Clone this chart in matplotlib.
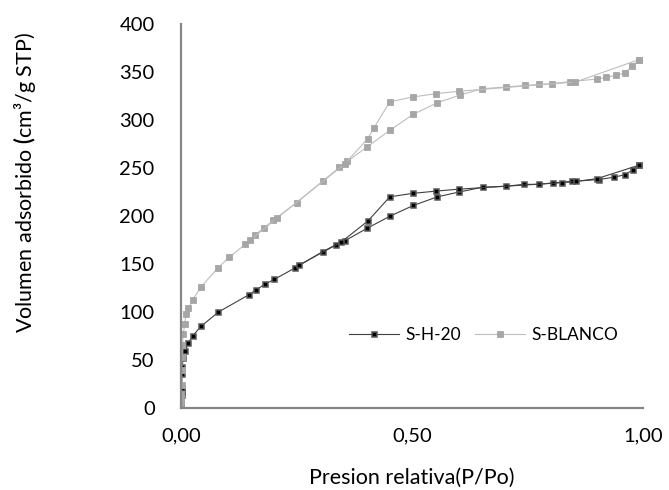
import matplotlib
matplotlib.use("Agg")
import matplotlib.pyplot as plt

plt.rcParams['font.family'] = ['Lato', 'DejaVu Sans']
plt.rcParams['mathtext.fontset'] = 'custom'
plt.rcParams['mathtext.bf'] = 'Lato:bold'
plt.rcParams['mathtext.rm'] = 'Lato'

# S-H-20 adsorption / desorption
h20_ads_p = [0.0003, 0.0005, 0.0007, 0.0009, 0.0011, 0.0013, 0.0015, 0.002, 0.003, 0.004,
             0.009, 0.016, 0.025, 0.043, 0.081, 0.147, 0.162, 0.182, 0.202, 0.247,
             0.307, 0.335, 0.354, 0.402, 0.453, 0.503, 0.555, 0.602, 0.653, 0.703,
             0.743, 0.774, 0.805, 0.846, 0.905, 0.938, 0.961, 0.978, 0.992]
h20_ads_v = [2, 5, 8, 11, 14, 17, 21, 35, 43, 52,
             59, 68, 75, 85, 100, 118, 123, 129, 134, 146,
             163, 170, 174, 187, 200, 211, 220, 225, 230, 231,
             233, 233, 234.5, 236, 238, 240.5, 243, 248, 253]
h20_des_p = [0.992, 0.901, 0.855, 0.824, 0.602, 0.553, 0.502, 0.452, 0.405, 0.346, 0.256]
h20_des_v = [253, 239, 236, 234.7, 228, 226, 223.6, 220, 195, 172.6, 149]

# S-BLANCO adsorption / desorption
bl_ads_p = [0.0003, 0.0006, 0.0009, 0.0012, 0.0015, 0.002, 0.003, 0.005, 0.008, 0.011,
            0.016, 0.025, 0.043, 0.079, 0.104, 0.139, 0.16, 0.18, 0.2, 0.25,
            0.307, 0.343, 0.36, 0.403, 0.453, 0.503, 0.555, 0.604, 0.652, 0.703,
            0.745, 0.774, 0.804, 0.843, 0.901, 0.921, 0.941, 0.961, 0.977, 0.992]
bl_ads_v = [5, 10, 15, 24, 40, 53, 66, 77, 88, 98,
            104, 112.5, 126, 145.5, 157, 170.5, 180, 188, 195.5, 214,
            236.5, 250.7, 257, 272, 289.6, 306, 318, 326, 332.6, 334.4,
            336, 337, 338, 340, 342.7, 344.4, 346.5, 349, 356, 363]
bl_des_p = [0.992, 0.854, 0.602, 0.553, 0.502, 0.452, 0.418, 0.404, 0.354, 0.208, 0.15]
bl_des_v = [363, 339.6, 330, 327.5, 324, 319, 292, 280.5, 254, 198, 175]

fig = plt.figure(figsize=(6.69, 4.9), dpi=100)
ax = fig.add_axes([0.2706, 0.1673, 0.6904, 0.7837])

dark = dict(color='#404040', lw=0.8, marker='s', ms=3.6, mfc='black',
            mec='#5a5a5a', mew=1.1)
light = dict(color='#bdbdbd', lw=0.8, marker='s', ms=4.3, mfc='#a6a6a6',
             mec='#a6a6a6', mew=0.6)

ax.plot(h20_ads_p, h20_ads_v, label='S-H-20', **dark)
ax.plot(h20_des_p, h20_des_v, **dark)
ax.plot(bl_ads_p, bl_ads_v, label='S-BLANCO', **light)
ax.plot(bl_des_p, bl_des_v, **light)

ax.set_xlim(0, 1.0)
ax.set_ylim(0, 400)
ax.set_xticks([0, 0.5, 1.0])
ax.set_xticklabels(['0,00', '0,50', '1,00'])
ax.set_yticks(range(0, 401, 50))
ax.tick_params(axis='both', length=0, labelsize=14.5, colors='black')
ax.tick_params(axis='y', pad=19)
ax.tick_params(axis='x', pad=14)
for s in ['top', 'right']:
    ax.spines[s].set_visible(False)
for s in ['left', 'bottom']:
    ax.spines[s].set_color('#868686')
    ax.spines[s].set_linewidth(1.6)
    ax.spines[s].set_clip_on(False)

ax.set_xlabel('Presion relativa(P/Po)', fontsize=15.5, labelpad=17)
fig.text(0.036, 0.628, r'Volumen adsorbido $\mathbf{(}$cm³/g STP)', rotation=90,
         fontsize=15.5, ha='center', va='center')

ax.legend(loc='center', bbox_to_anchor=(0.655, 0.19), ncol=2, frameon=False,
          fontsize=12.5, handlelength=2.9, columnspacing=0.8, handletextpad=0.35)

fig.savefig('out.png', dpi=100)
